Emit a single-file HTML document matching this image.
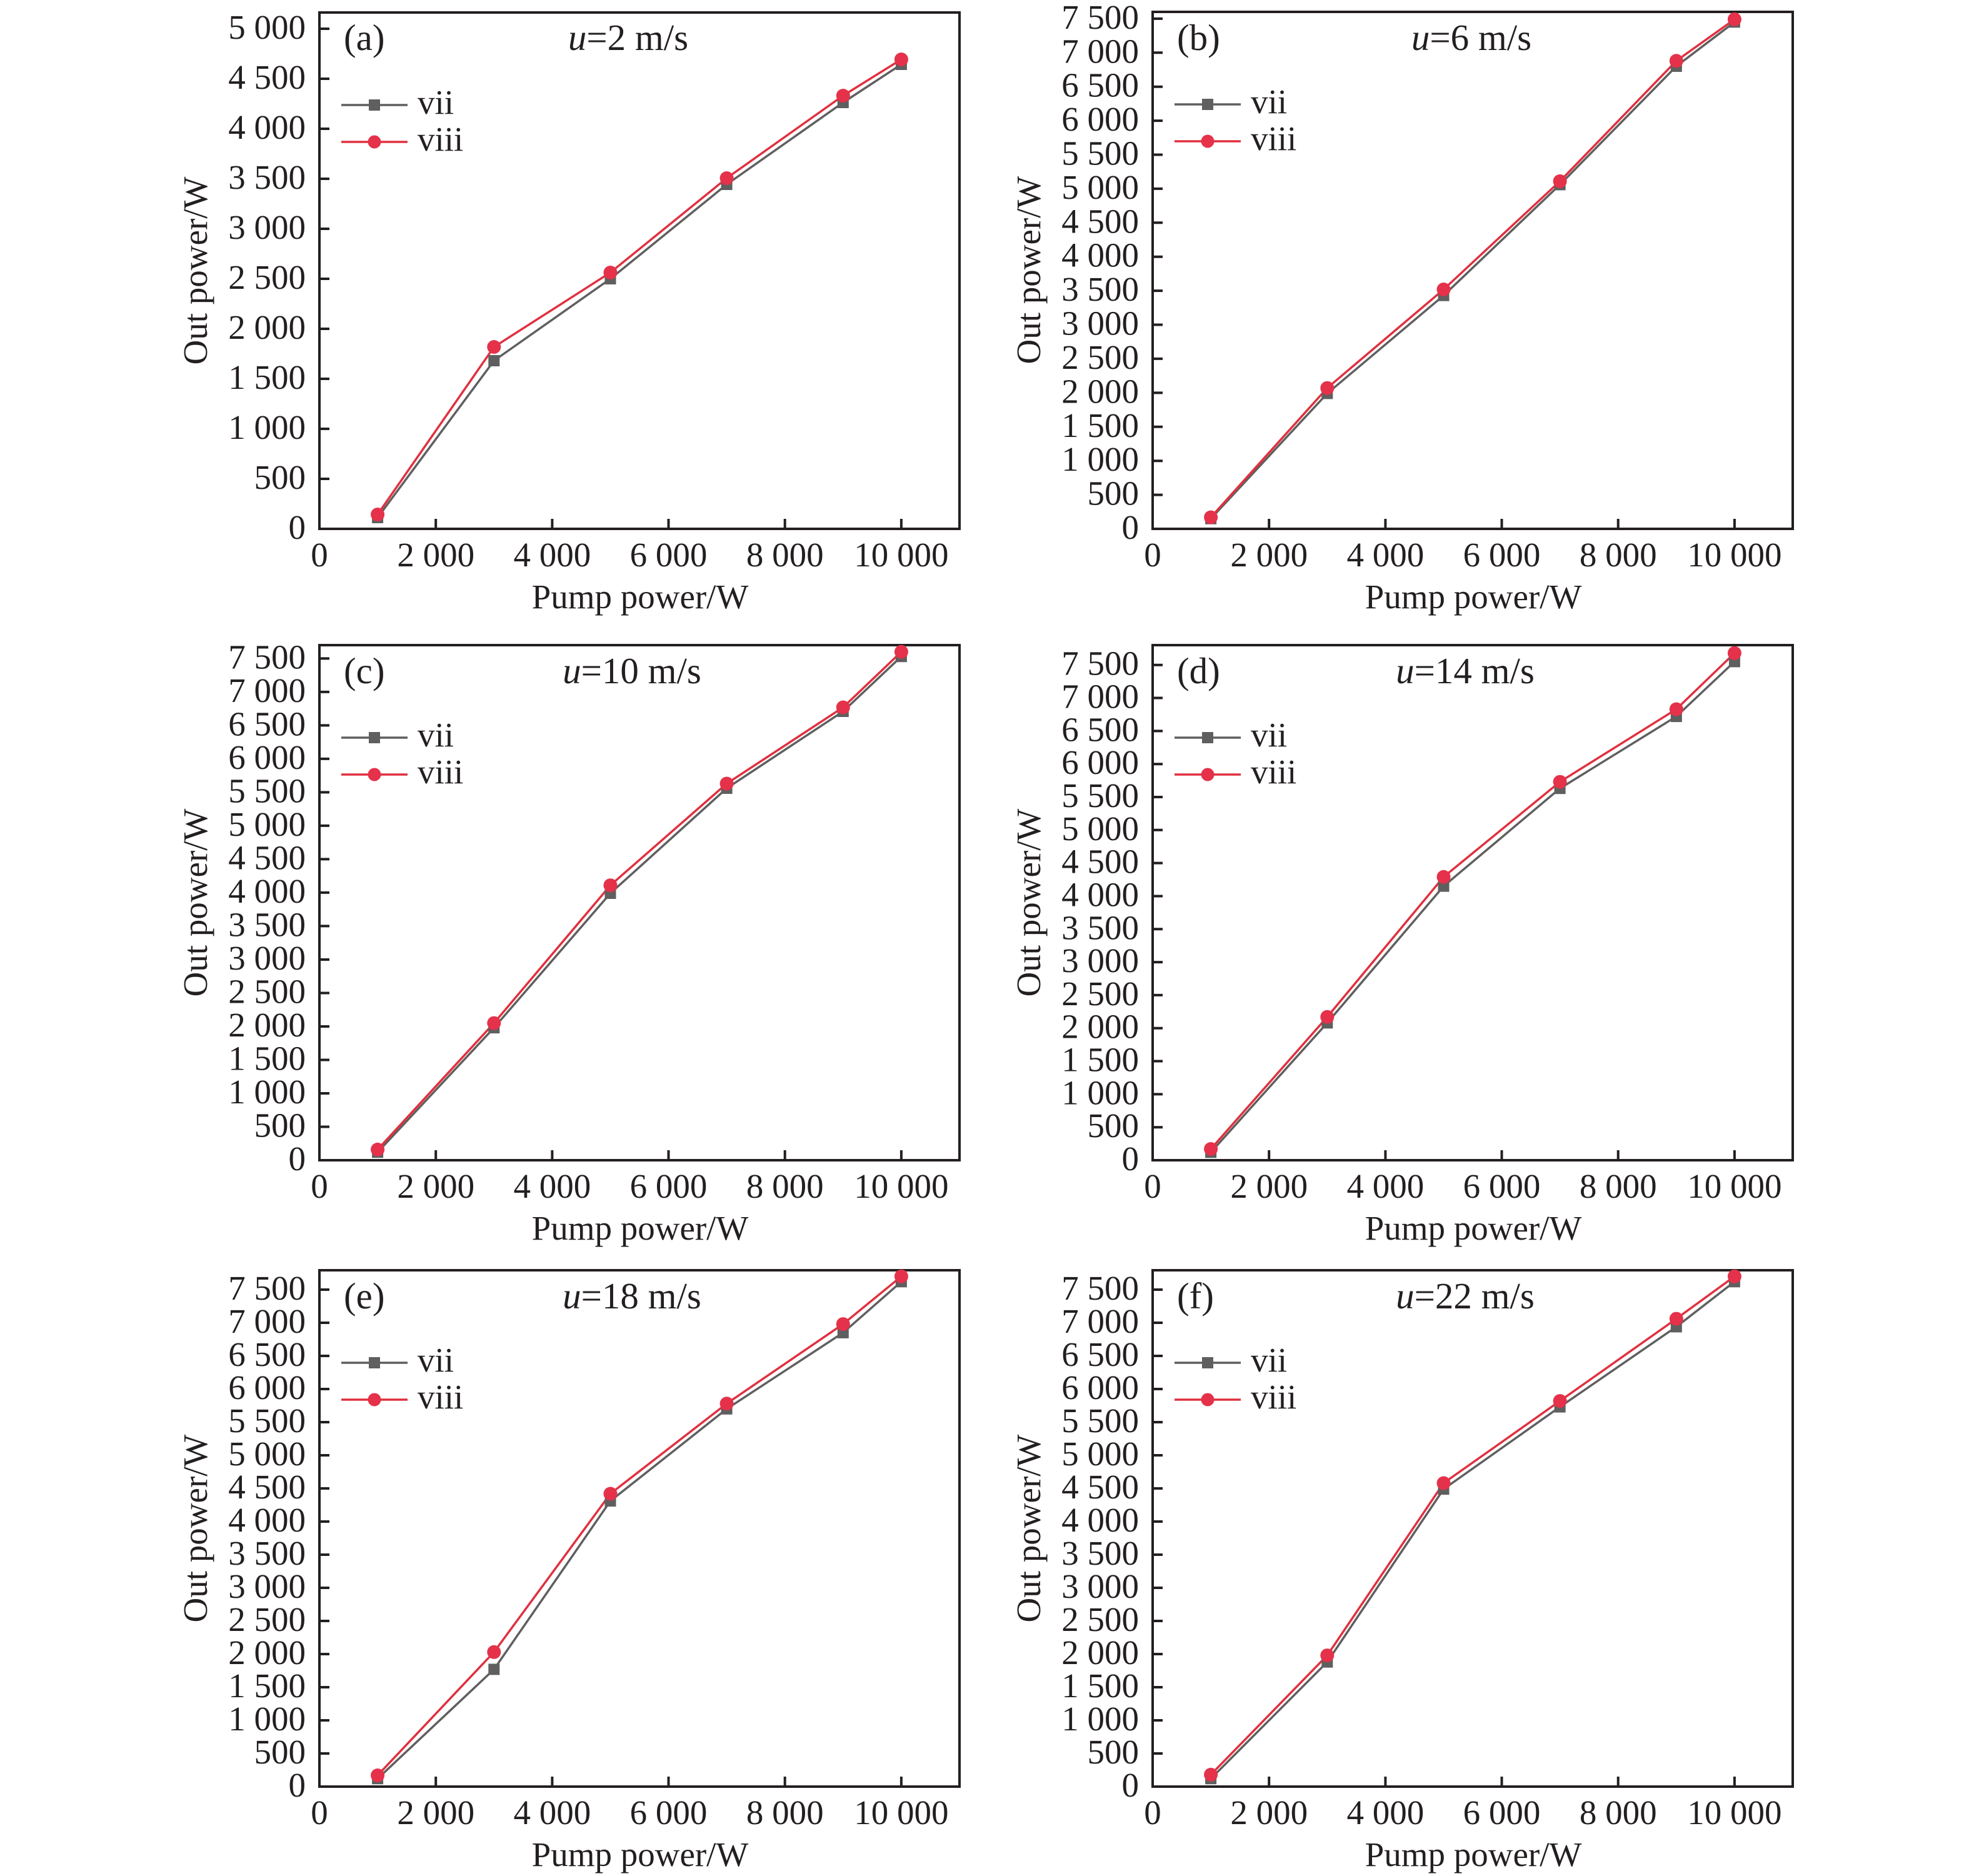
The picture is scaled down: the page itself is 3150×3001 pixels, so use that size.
<!DOCTYPE html>
<html><head><meta charset="utf-8"><style>
html,body{margin:0;padding:0;background:#fff}
svg{display:block}
text{font-family:"Liberation Serif",serif;font-size:55px;fill:#231f20}
.yt{text-anchor:end}.xt{text-anchor:middle}
.tt{font-size:59px}
.fr{fill:none;stroke:#231f20;stroke-width:4}
.tk{stroke:#231f20;stroke-width:4}
.g{fill:none;stroke:#5f5f5f;stroke-width:3.5}
.r{fill:none;stroke:#e0303f;stroke-width:3.5}
.gs{fill:#5f5f5f}.rc{fill:#e5314a}
</style></head><body>
<svg width="3150" height="3001" viewBox="0 0 3150 3001" xmlns="http://www.w3.org/2000/svg">
<defs>
<g id="xax">
<path class="tk" d="M186.2 0v-16M372.4 0v-16M558.5 0v-16M744.7 0v-16M930.9 0v-16"/>
<text class="xt" x="0" y="60">0</text><text class="xt" x="186.2" y="60">2 000</text><text class="xt" x="372.4" y="60">4 000</text><text class="xt" x="558.5" y="60">6 000</text><text class="xt" x="744.7" y="60">8 000</text><text class="xt" x="930.9" y="60">10 000</text>
<text class="xt" x="513" y="127">Pump power/W</text>
</g>
<g id="leg">
<line class="g" x1="35" y1="148" x2="141" y2="148"/><rect class="gs" x="79" y="139" width="18" height="18"/>
<text x="157" y="162">vii</text>
<line class="r" x1="35" y1="207" x2="141" y2="207"/><circle class="rc" cx="88" cy="207" r="10.5"/>
<text x="157" y="221">viii</text>
</g>
<g id="m"><rect class="gs" x="-9" y="-9" width="18" height="18"/></g>
<g id="c"><circle class="rc" r="11"/></g>
<g id="y3">
<path class="tk" d="M0 773h16M0 720h16M0 667h16M0 614h16M0 561h16M0 508h16M0 455h16M0 402h16M0 349h16M0 296h16M0 243h16M0 190h16M0 137h16M0 84h16M0 31h16"/>
<text class="yt" x="-22" y="842">0</text><text class="yt" x="-22" y="789">500</text><text class="yt" x="-22" y="736">1 000</text><text class="yt" x="-22" y="683">1 500</text><text class="yt" x="-22" y="630">2 000</text><text class="yt" x="-22" y="577">2 500</text><text class="yt" x="-22" y="524">3 000</text><text class="yt" x="-22" y="471">3 500</text><text class="yt" x="-22" y="418">4 000</text><text class="yt" x="-22" y="365">4 500</text><text class="yt" x="-22" y="312">5 000</text><text class="yt" x="-22" y="259">5 500</text><text class="yt" x="-22" y="206">6 000</text><text class="yt" x="-22" y="153">6 500</text><text class="yt" x="-22" y="100">7 000</text><text class="yt" x="-22" y="47">7 500</text>
</g>
</defs>

<!-- (a) -->
<g transform="translate(511,20)">
<rect class="fr" x="0" y="0" width="1024" height="826"/>
<g transform="translate(0,826)"><use href="#xax"/></g>
<path class="tk" d="M0 746h16M0 666h16M0 586h16M0 506h16M0 426h16M0 346h16M0 266h16M0 186h16M0 106h16M0 26h16"/>
<text class="yt" x="-22" y="842">0</text><text class="yt" x="-22" y="762">500</text><text class="yt" x="-22" y="682">1 000</text><text class="yt" x="-22" y="602">1 500</text><text class="yt" x="-22" y="522">2 000</text><text class="yt" x="-22" y="442">2 500</text><text class="yt" x="-22" y="362">3 000</text><text class="yt" x="-22" y="282">3 500</text><text class="yt" x="-22" y="202">4 000</text><text class="yt" x="-22" y="122">4 500</text><text class="yt" x="-22" y="42">5 000</text>
<text transform="translate(-180,413) rotate(-90)" class="xt">Out power/W</text>
<text class="tt" x="39" y="60">(a)</text><text class="xt tt" x="494" y="60"><tspan font-style="italic">u</tspan>=2 m/s</text>
<use href="#leg"/>
<polyline class="g" points="93.1,808 279.3,557 465.5,426 651.6,275 837.8,144 930.9,83"/>
<polyline class="r" points="93.1,803 279.3,535 465.5,416 651.6,265 837.8,133 930.9,75"/>
<use href="#m" x="93.1" y="808"/><use href="#m" x="279.3" y="557"/><use href="#m" x="465.5" y="426"/><use href="#m" x="651.6" y="275"/><use href="#m" x="837.8" y="144"/><use href="#m" x="930.9" y="83"/>
<use href="#c" x="93.1" y="803"/><use href="#c" x="279.3" y="535"/><use href="#c" x="465.5" y="416"/><use href="#c" x="651.6" y="265"/><use href="#c" x="837.8" y="133"/><use href="#c" x="930.9" y="75"/>
</g>

<!-- (b) -->
<g transform="translate(1844,19)">
<rect class="fr" x="0" y="0" width="1024" height="827"/>
<g transform="translate(0,827)"><use href="#xax"/></g>
<path class="tk" d="M0 772.6h16M0 718.2h16M0 663.8h16M0 609.4h16M0 554.9h16M0 500.5h16M0 446.1h16M0 391.7h16M0 337.3h16M0 282.9h16M0 228.5h16M0 174.1h16M0 119.7h16M0 65.3h16M0 10.9h16"/>
<text class="yt" x="-22" y="843">0</text><text class="yt" x="-22" y="788.6">500</text><text class="yt" x="-22" y="734.2">1 000</text><text class="yt" x="-22" y="679.8">1 500</text><text class="yt" x="-22" y="625.4">2 000</text><text class="yt" x="-22" y="570.9">2 500</text><text class="yt" x="-22" y="516.5">3 000</text><text class="yt" x="-22" y="462.1">3 500</text><text class="yt" x="-22" y="407.7">4 000</text><text class="yt" x="-22" y="353.3">4 500</text><text class="yt" x="-22" y="298.9">5 000</text><text class="yt" x="-22" y="244.5">5 500</text><text class="yt" x="-22" y="190.1">6 000</text><text class="yt" x="-22" y="135.7">6 500</text><text class="yt" x="-22" y="81.3">7 000</text><text class="yt" x="-22" y="26.9">7 500</text>
<text transform="translate(-180,413) rotate(-90)" class="xt">Out power/W</text>
<text class="tt" x="39" y="61">(b)</text><text class="xt tt" x="510" y="61"><tspan font-style="italic">u</tspan>=6 m/s</text>
<use href="#leg"/>
<polyline class="g" points="93.1,810.7 279.3,610.4 465.5,453.7 651.6,276.4 837.8,87 930.9,16.3"/>
<polyline class="r" points="93.1,808.5 279.3,601.7 465.5,444 651.6,270.9 837.8,78.3 930.9,11.9"/>
<use href="#m" x="93.1" y="810.7"/><use href="#m" x="279.3" y="610.4"/><use href="#m" x="465.5" y="453.7"/><use href="#m" x="651.6" y="276.4"/><use href="#m" x="837.8" y="87"/><use href="#m" x="930.9" y="16.3"/>
<use href="#c" x="93.1" y="808.5"/><use href="#c" x="279.3" y="601.7"/><use href="#c" x="465.5" y="444"/><use href="#c" x="651.6" y="270.9"/><use href="#c" x="837.8" y="78.3"/><use href="#c" x="930.9" y="11.9"/>
</g>

<!-- (c) -->
<g transform="translate(511,1032)">
<rect class="fr" x="0" y="0" width="1024" height="824"/>
<g transform="translate(0,824)"><use href="#xax"/></g>
<path class="tk" d="M0 770.5h16M0 717h16M0 663.5h16M0 610h16M0 556.5h16M0 503h16M0 449.4h16M0 395.9h16M0 342.4h16M0 288.9h16M0 235.4h16M0 181.9h16M0 128.4h16M0 74.9h16M0 21.4h16"/>
<text class="yt" x="-22" y="840">0</text><text class="yt" x="-22" y="786.5">500</text><text class="yt" x="-22" y="733">1 000</text><text class="yt" x="-22" y="679.5">1 500</text><text class="yt" x="-22" y="626">2 000</text><text class="yt" x="-22" y="572.5">2 500</text><text class="yt" x="-22" y="519">3 000</text><text class="yt" x="-22" y="465.4">3 500</text><text class="yt" x="-22" y="411.9">4 000</text><text class="yt" x="-22" y="358.4">4 500</text><text class="yt" x="-22" y="304.9">5 000</text><text class="yt" x="-22" y="251.4">5 500</text><text class="yt" x="-22" y="197.9">6 000</text><text class="yt" x="-22" y="144.4">6 500</text><text class="yt" x="-22" y="90.9">7 000</text><text class="yt" x="-22" y="37.4">7 500</text>
<text transform="translate(-180,412) rotate(-90)" class="xt">Out power/W</text>
<text class="tt" x="39" y="61">(c)</text><text class="xt tt" x="500" y="61"><tspan font-style="italic">u</tspan>=10 m/s</text>
<use href="#leg"/>
<polyline class="g" points="93.1,811.2 279.3,612.1 465.5,397 651.6,229 837.8,106 930.9,18.2"/>
<polyline class="r" points="93.1,806.9 279.3,604.6 465.5,384.2 651.6,221.5 837.8,99.5 930.9,10.7"/>
<use href="#m" x="93.1" y="811.2"/><use href="#m" x="279.3" y="612.1"/><use href="#m" x="465.5" y="397"/><use href="#m" x="651.6" y="229"/><use href="#m" x="837.8" y="106"/><use href="#m" x="930.9" y="18.2"/>
<use href="#c" x="93.1" y="806.9"/><use href="#c" x="279.3" y="604.6"/><use href="#c" x="465.5" y="384.2"/><use href="#c" x="651.6" y="221.5"/><use href="#c" x="837.8" y="99.5"/><use href="#c" x="930.9" y="10.7"/>
</g>

<!-- (d) -->
<g transform="translate(1844,1032)">
<rect class="fr" x="0" y="0" width="1024" height="824"/>
<g transform="translate(0,824)"><use href="#xax"/></g>
<path class="tk" d="M0 771.2h16M0 718.4h16M0 665.5h16M0 612.7h16M0 559.9h16M0 507.1h16M0 454.3h16M0 401.5h16M0 348.6h16M0 295.8h16M0 243h16M0 190.2h16M0 137.4h16M0 84.5h16M0 31.7h16"/>
<text class="yt" x="-22" y="840">0</text><text class="yt" x="-22" y="787.2">500</text><text class="yt" x="-22" y="734.4">1 000</text><text class="yt" x="-22" y="681.5">1 500</text><text class="yt" x="-22" y="628.7">2 000</text><text class="yt" x="-22" y="575.9">2 500</text><text class="yt" x="-22" y="523.1">3 000</text><text class="yt" x="-22" y="470.3">3 500</text><text class="yt" x="-22" y="417.5">4 000</text><text class="yt" x="-22" y="364.6">4 500</text><text class="yt" x="-22" y="311.8">5 000</text><text class="yt" x="-22" y="259">5 500</text><text class="yt" x="-22" y="206.2">6 000</text><text class="yt" x="-22" y="153.4">6 500</text><text class="yt" x="-22" y="100.5">7 000</text><text class="yt" x="-22" y="47.7">7 500</text>
<text transform="translate(-180,412) rotate(-90)" class="xt">Out power/W</text>
<text class="tt" x="39" y="61">(d)</text><text class="xt tt" x="500" y="61"><tspan font-style="italic">u</tspan>=14 m/s</text>
<use href="#leg"/>
<polyline class="g" points="93.1,811.3 279.3,604.3 465.5,385.6 651.6,229.2 837.8,114.1 930.9,26.4"/>
<polyline class="r" points="93.1,806 279.3,594.8 465.5,370.8 651.6,218.7 837.8,102.5 930.9,12.7"/>
<use href="#m" x="93.1" y="811.3"/><use href="#m" x="279.3" y="604.3"/><use href="#m" x="465.5" y="385.6"/><use href="#m" x="651.6" y="229.2"/><use href="#m" x="837.8" y="114.1"/><use href="#m" x="930.9" y="26.4"/>
<use href="#c" x="93.1" y="806"/><use href="#c" x="279.3" y="594.8"/><use href="#c" x="465.5" y="370.8"/><use href="#c" x="651.6" y="218.7"/><use href="#c" x="837.8" y="102.5"/><use href="#c" x="930.9" y="12.7"/>
</g>

<!-- (e) -->
<g transform="translate(511,2032)">
<rect class="fr" x="0" y="0" width="1024" height="826"/>
<g transform="translate(0,826)"><use href="#xax"/></g>
<use href="#y3"/>
<text transform="translate(-180,413) rotate(-90)" class="xt">Out power/W</text>
<text class="tt" x="39" y="61">(e)</text><text class="xt tt" x="500" y="61"><tspan font-style="italic">u</tspan>=18 m/s</text>
<use href="#leg"/>
<polyline class="g" points="93.1,813.3 279.3,638.4 465.5,369.1 651.6,221.8 837.8,99.9 930.9,18.3"/>
<polyline class="r" points="93.1,808 279.3,610.8 465.5,357.5 651.6,213.3 837.8,86.1 930.9,9.8"/>
<use href="#m" x="93.1" y="813.3"/><use href="#m" x="279.3" y="638.4"/><use href="#m" x="465.5" y="369.1"/><use href="#m" x="651.6" y="221.8"/><use href="#m" x="837.8" y="99.9"/><use href="#m" x="930.9" y="18.3"/>
<use href="#c" x="93.1" y="808"/><use href="#c" x="279.3" y="610.8"/><use href="#c" x="465.5" y="357.5"/><use href="#c" x="651.6" y="213.3"/><use href="#c" x="837.8" y="86.1"/><use href="#c" x="930.9" y="9.8"/>
</g>

<!-- (f) -->
<g transform="translate(1844,2032)">
<rect class="fr" x="0" y="0" width="1024" height="826"/>
<g transform="translate(0,826)"><use href="#xax"/></g>
<use href="#y3"/>
<text transform="translate(-180,413) rotate(-90)" class="xt">Out power/W</text>
<text class="tt" x="39" y="61">(f)</text><text class="xt tt" x="500" y="61"><tspan font-style="italic">u</tspan>=22 m/s</text>
<use href="#leg"/>
<polyline class="g" points="93.1,813.3 279.3,626.7 465.5,350.1 651.6,218.6 837.8,90.4 930.9,18.3"/>
<polyline class="r" points="93.1,806.9 279.3,616.1 465.5,340.5 651.6,209.1 837.8,77.6 930.9,9.8"/>
<use href="#m" x="93.1" y="813.3"/><use href="#m" x="279.3" y="626.7"/><use href="#m" x="465.5" y="350.1"/><use href="#m" x="651.6" y="218.6"/><use href="#m" x="837.8" y="90.4"/><use href="#m" x="930.9" y="18.3"/>
<use href="#c" x="93.1" y="806.9"/><use href="#c" x="279.3" y="616.1"/><use href="#c" x="465.5" y="340.5"/><use href="#c" x="651.6" y="209.1"/><use href="#c" x="837.8" y="77.6"/><use href="#c" x="930.9" y="9.8"/>
</g>
</svg>
</body></html>
